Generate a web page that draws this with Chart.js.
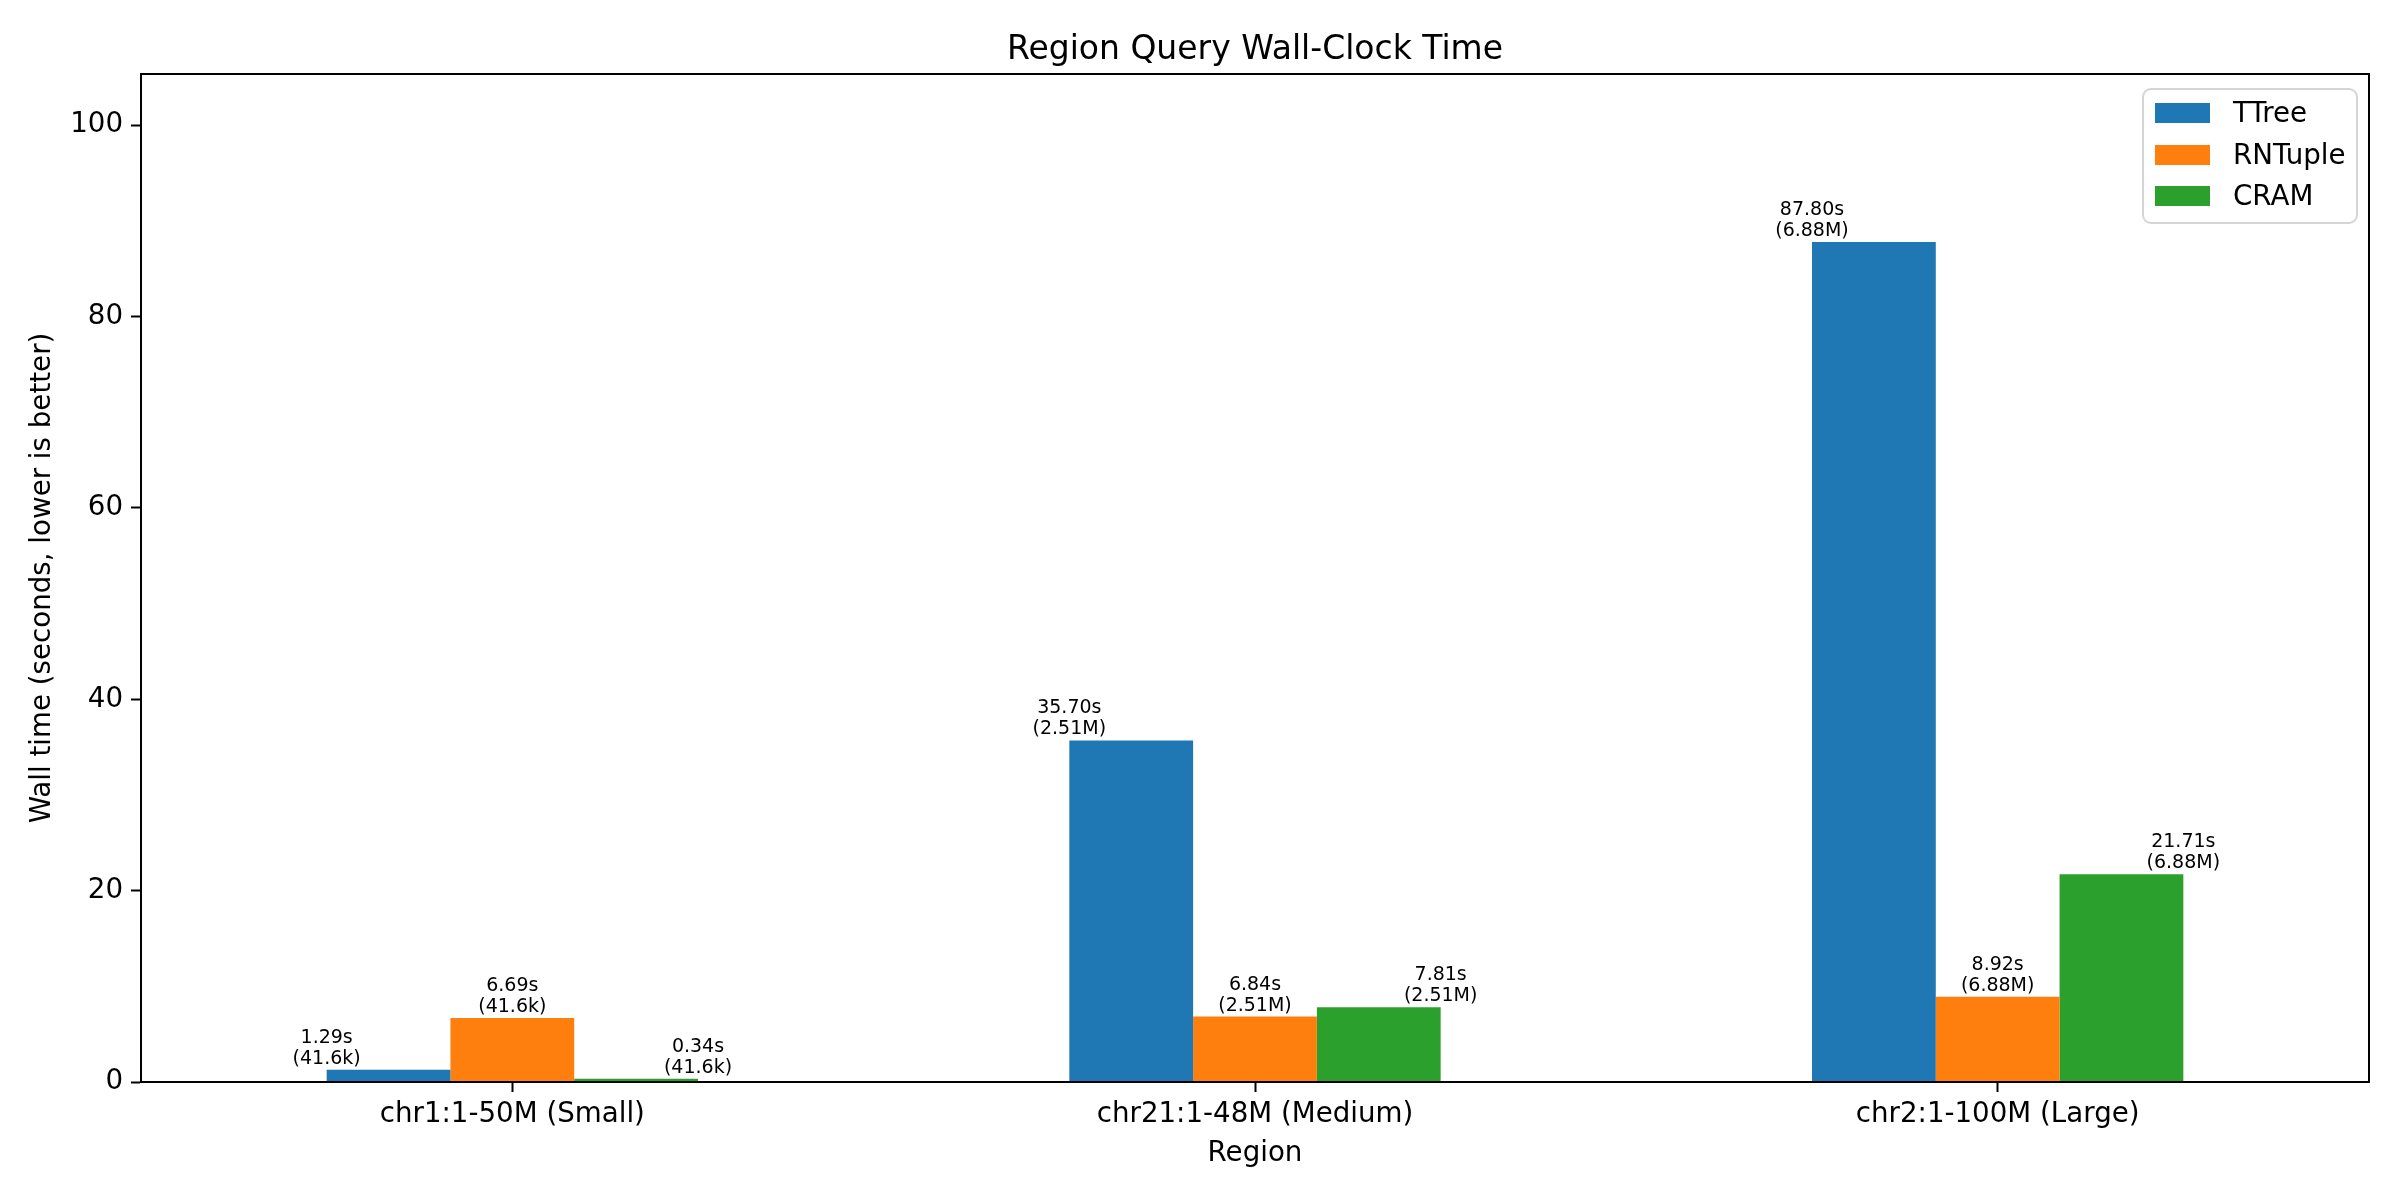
<!DOCTYPE html>
<html>
<head>
<meta charset="utf-8">
<script src="https://cdn.jsdelivr.net/npm/chart.js@4.4.1/dist/chart.umd.min.js"></script>
<style>
html,body{margin:0;padding:0;background:#fff;}
canvas{display:block;}
</style>
</head>
<body>
<canvas id="c" width="2400" height="1200"></canvas>
<script>
// ---- data ----
const categories = ['chr1:1-50M (Small)', 'chr21:1-48M (Medium)', 'chr2:1-100M (Large)'];
const seriesNames = ['TTree', 'RNTuple', 'CRAM'];
const ttreeTimes = [1.29, 35.70, 87.80];
const rntupleTimes = [6.69, 6.84, 8.92];
const cramTimes = [0.34, 7.81, 21.71];
const recordCounts = ['41.6k', '2.51M', '6.88M'];
const yTicks = [0, 20, 40, 60, 80, 100];
const yMax = 105.36;
const colors = ['#1f77b4', '#ff7f0e', '#2ca02c'];
const chartTitle = 'Region Query Wall-Clock Time';

const FONT = '"DejaVu Sans", sans-serif';
const seriesValues = [ttreeTimes, rntupleTimes, cramTimes];

const frameAndLabels = {
  id: 'frameAndLabels',
  afterDatasetsDraw(chart) {
    const ctx = chart.ctx;
    const a = chart.chartArea;
    ctx.save();
    // title centred over the axes
    ctx.fillStyle = '#000';
    ctx.font = '33px ' + FONT;
    ctx.textAlign = 'center';
    ctx.textBaseline = 'middle';
    ctx.fillText(chartTitle, (a.left + a.right) / 2, 50);
    // bar labels
    ctx.font = '19px ' + FONT;
    ctx.textAlign = 'center';
    ctx.textBaseline = 'alphabetic';
    chart.data.datasets.forEach((ds, i) => {
      const meta = chart.getDatasetMeta(i);
      meta.data.forEach((el, j) => {
        const x = el.x + (i - 1) * el.width / 2;
        const top = el.y;
        ctx.fillText(ds.data[j].toFixed(2) + 's', x, top - 27);
        ctx.fillText('(' + recordCounts[j] + ')', x, top - 6);
      });
    });
    // full frame (spines)
    ctx.strokeStyle = '#000';
    ctx.lineWidth = 2;
    ctx.strokeRect(a.left, a.top, a.right - a.left, a.bottom - a.top);
    // legend
    const lx = 2143, ly = 89, lw = 214, lh = 134, r = 8;
    ctx.fillStyle = 'rgba(255,255,255,0.8)';
    ctx.strokeStyle = '#d5d5d5';
    ctx.lineWidth = 2;
    ctx.beginPath();
    ctx.moveTo(lx + r, ly);
    ctx.arcTo(lx + lw, ly, lx + lw, ly + lh, r);
    ctx.arcTo(lx + lw, ly + lh, lx, ly + lh, r);
    ctx.arcTo(lx, ly + lh, lx, ly, r);
    ctx.arcTo(lx, ly, lx + lw, ly, r);
    ctx.closePath();
    ctx.fill();
    ctx.stroke();
    ctx.font = '27.7px ' + FONT;
    ctx.textAlign = 'left';
    ctx.textBaseline = 'middle';
    const rows = [113, 155, 196];
    chart.data.datasets.forEach((ds, i) => {
      ctx.fillStyle = ds.backgroundColor;
      ctx.fillRect(2155, rows[i] - 10, 55, 20);
      ctx.fillStyle = '#000';
      ctx.fillText(ds.label, 2233, rows[i] + 2);
    });
    ctx.restore();
  }
};

new Chart(document.getElementById('c'), {
  type: 'bar',
  data: {
    labels: categories,
    datasets: seriesNames.map((name, i) => ({
      label: name,
      data: seriesValues[i],
      backgroundColor: colors[i],
      borderWidth: 0,
      categoryPercentage: 0.5,
      barPercentage: 1.0
    }))
  },
  options: {
    responsive: false,
    animation: false,
    devicePixelRatio: 1,
    layout: { padding: { left: 0, right: 31, top: 74, bottom: 0 } },
    plugins: {
      legend: { display: false },
      tooltip: { enabled: false },
      title: { display: false }
    },
    scales: {
      x: {
        offset: true,
        afterFit(scale) { scale.height = 118; },
        grid: {
          display: true, offset: false, drawOnChartArea: false, drawTicks: true,
          tickLength: 10, tickColor: '#000', tickWidth: 2
        },
        border: { display: true, color: '#000', width: 2 },
        ticks: { color: '#000', font: { family: FONT, size: 27.7 }, padding: 6, maxRotation: 0 },
        title: {
          display: true, text: 'Region', color: '#000',
          font: { family: FONT, size: 27.7 }, padding: { top: 0, bottom: 29.4 }
        }
      },
      y: {
        min: 0,
        max: yMax,
        afterFit(scale) { scale.width = 141; },
        afterBuildTicks(scale) { scale.ticks = yTicks.map(v => ({ value: v })); },
        grid: {
          display: true, drawOnChartArea: false, drawTicks: true,
          tickLength: 10, tickColor: '#000', tickWidth: 2
        },
        border: { display: true, color: '#000', width: 2 },
        ticks: { color: '#000', font: { family: FONT, size: 27.7 }, padding: 8,
          callback: v => String(v) },
        title: {
          display: true, text: 'Wall time (seconds, lower is better)', color: '#000',
          font: { family: FONT, size: 27.7 }, padding: { top: 26.4, bottom: 0 }
        }
      }
    }
  },
  plugins: [frameAndLabels]
});
</script>
</body>
</html>
